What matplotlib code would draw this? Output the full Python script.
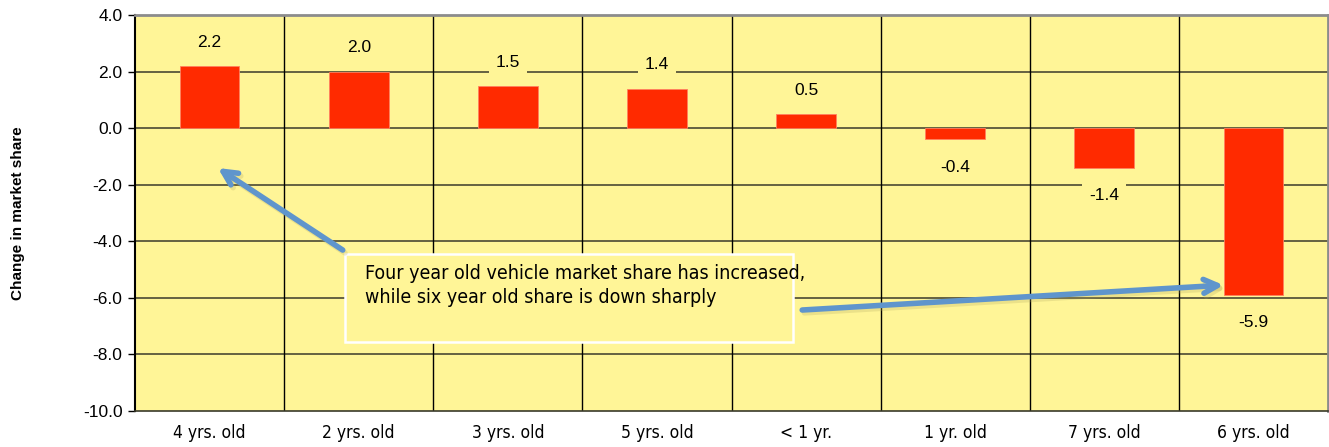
import matplotlib
matplotlib.use('Agg')
import matplotlib.pyplot as plt
import numpy as np

# data
categories = ['4 yrs. old', '2 yrs. old', '3 yrs. old', '5 yrs. old', '< 1 yr.',
              '1 yr. old', '7 yrs. old', '6 yrs. old']
share_change = [2.2, 2.0, 1.5, 1.4, 0.5, -0.4, -1.4, -5.9]
y_ticks = [4.0, 2.0, 0.0, -2.0, -4.0, -6.0, -8.0, -10.0]
note = 'Four year old vehicle market share has increased,\nwhile six year old share is down sharply'

yellow = '#fff597'
red = '#ff2a00'
blue = '#5f95cc'
arial = ['Liberation Sans', 'DejaVu Sans']

fig = plt.figure(figsize=(13.29, 4.47), dpi=100)
ax = fig.add_axes([135 / 1329, 36 / 447, 1193 / 1329, 396 / 447])
ax.set_facecolor(yellow)

x = np.arange(len(categories))
ax.bar(x, share_change, width=0.4, color=red, edgecolor='#ff8060', linewidth=0.6, zorder=3)

ax.set_xlim(-0.5, len(categories) - 0.5)
ax.set_ylim(-10, 4)
ax.set_yticks(y_ticks)
ax.set_yticklabels(['%.1f' % v for v in y_ticks], family=arial, fontsize=12.5)
ax.set_xticks(x)
ax.set_xticklabels(categories, family='DejaVu Sans', stretch='condensed', fontsize=12.5)
ax.tick_params(axis='x', length=0, pad=9)
ax.tick_params(axis='y', length=5, width=1, direction='out', pad=4)

# grid: horizontal at each tick, vertical between categories
for v in y_ticks[1:-1]:
    ax.axhline(v, color='#3a3a2a', lw=1.1, zorder=1)
for b in np.arange(0.5, len(categories) - 0.5):
    ax.axvline(b, color='black', lw=1.0, zorder=1)

ax.spines['left'].set_color('black')
ax.spines['left'].set_linewidth(1.5)
ax.spines['bottom'].set_color('#3a3a2a')
ax.spines['bottom'].set_linewidth(1.2)
for s in ['top', 'right']:
    ax.spines[s].set_color('#8c8c8c')
    ax.spines[s].set_linewidth(2)

# data labels
for xi, v in zip(x, share_change):
    off = 17 if v > 0 else -20
    ax.annotate('%.1f' % v, (xi, v), textcoords='offset points', xytext=(0, off),
                ha='center', va='center', fontsize=12.5, family=arial,
                bbox=dict(boxstyle='square,pad=0.4', fc=yellow, ec='none'), zorder=4)

ax.set_ylabel('Change in market share', fontsize=11, fontweight='bold', family=arial)
ax.yaxis.set_label_coords(-0.092, 0.5)

# note box
box = plt.Rectangle((0.907, -7.56), 3.007, 3.11, fc=yellow, ec='white', lw=1.8, zorder=5)
ax.add_patch(box)
ax.text(1.04, -5.55, note, ha='left', va='center', fontsize=14, family='DejaVu Sans',
        stretch='condensed', linespacing=1.35, zorder=6)

# arrows with soft shadow
arrows = [((0.893, -4.31), (0.056, -1.41)), ((3.974, -6.43), (6.80, -5.55))]
style = '->,head_length=1.0,head_width=0.5'
for start, end in arrows:
    ax.annotate('', xy=(end[0] + 0.015, end[1] - 0.1), xytext=(start[0] + 0.015, start[1] - 0.1),
                arrowprops=dict(arrowstyle=style, color='#b0a860', lw=4, alpha=0.25,
                                shrinkA=0, shrinkB=0), zorder=6)
    ax.annotate('', xy=end, xytext=start,
                arrowprops=dict(arrowstyle=style, color=blue, lw=4, shrinkA=0, shrinkB=0),
                zorder=7)

fig.savefig('out.png', dpi=100)
